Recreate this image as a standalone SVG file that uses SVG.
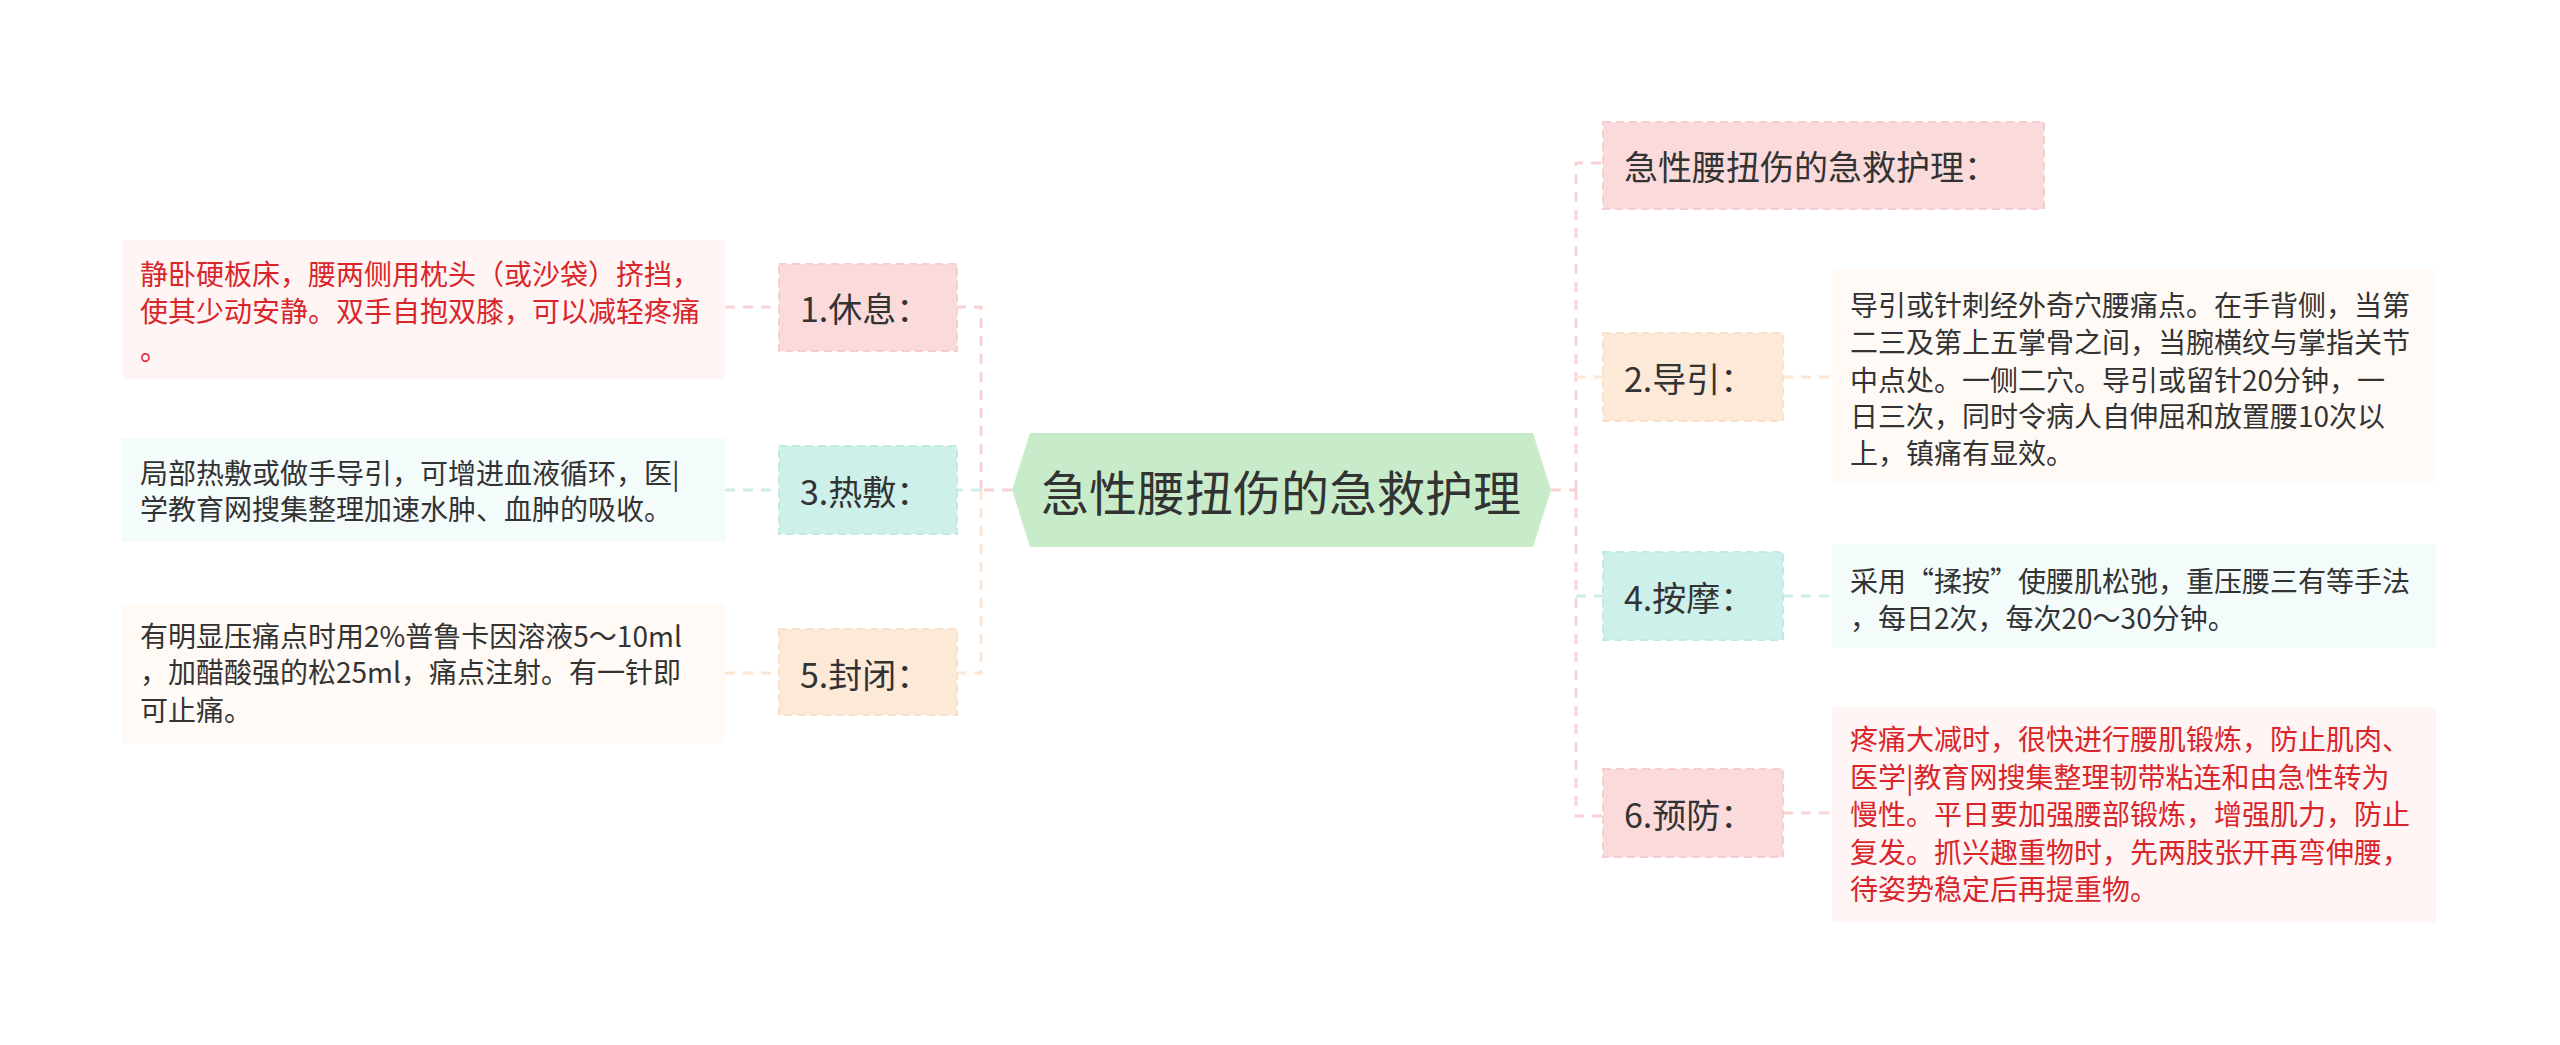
<svg xmlns="http://www.w3.org/2000/svg" width="2560" height="1045" viewBox="0 0 2560 1045">
<style>
text{font-family:"Noto Sans CJK SC","Noto Sans",sans-serif;fill:#333;dominant-baseline:central}
.leaf{font-size:28px}
.red{fill:#d9262a}
.l1{font-size:34px}
.con{fill:none;stroke-width:3;stroke-dasharray:10 8}
.nb{stroke-width:2;stroke-dasharray:8 5}
</style>
<rect width="2560" height="1045" fill="#fff"/>
<g id="connectors">
<path class="con" stroke="#f9d3d4" d="M1551 490H1576M1576 490V163H1603M1576 490V816H1603"/>
<path class="con" stroke="#fde6d2" d="M1576 377H1603M1783 377H1832"/>
<path class="con" stroke="#cdeee8" d="M1576 596H1603M1783 596H1832"/>
<path class="con" stroke="#f9d3d4" d="M1783 813H1832"/>
<path class="con" stroke="#f9d3d4" d="M1012 490H981M981 490V307H957M725 307H779"/>
<path class="con" stroke="#cdeee8" d="M981 490H957M725 490H779"/>
<path class="con" stroke="#fde6d2" d="M981 490V673H957M725 673H779"/>
</g>
<g id="center">
<polygon points="1012,490 1030,433 1533,433 1551,490 1533,547 1030,547" fill="#c8ecc9"/>
<text x="1281" y="490" font-size="48" text-anchor="middle">急性腰扭伤的急救护理</text>
</g>
<g id="n1">
<rect x="779" y="264" width="178" height="87" fill="#fadadb" stroke="#f6cdd0" class="nb"/>
<text class="l1" x="800" y="307">1.休息：</text>
</g>
<g id="leaf1">
<rect x="122" y="240" width="603" height="139" fill="#fff5f5"/>
<text class="leaf red" x="140" y="273">静卧硬板床，腰两侧用枕头（或沙袋）挤挡，</text>
<text class="leaf red" x="140" y="310">使其少动安静。双手自抱双膝，可以减轻疼痛</text>
<text class="leaf red" x="140" y="348">。</text>
</g>
<g id="n3">
<rect x="779" y="446" width="178" height="88" fill="#cdf0ea" stroke="#c0ebe3" class="nb"/>
<text class="l1" x="800" y="490">3.热敷：</text>
</g>
<g id="leaf3">
<rect x="122" y="438" width="603" height="104" fill="#f3fbfb"/>
<text class="leaf" x="140" y="472">局部热敷或做手导引，可增进血液循环，医|</text>
<text class="leaf" x="140" y="508">学教育网搜集整理加速水肿、血肿的吸收。</text>
</g>
<g id="n5">
<rect x="779" y="629" width="178" height="86" fill="#fde9d8" stroke="#fbe0c8" class="nb"/>
<text class="l1" x="800" y="673">5.封闭：</text>
</g>
<g id="leaf5">
<rect x="122" y="604" width="603" height="139" fill="#fffaf5"/>
<text class="leaf" x="140" y="635">有明显压痛点时用2%普鲁卡因溶液5～10ml</text>
<text class="leaf" x="140" y="671">，加醋酸强的松25ml，痛点注射。有一针即</text>
<text class="leaf" x="140" y="709">可止痛。</text>
</g>
<g id="title">
<rect x="1603" y="122" width="441" height="87" fill="#fadadb" stroke="#f6cdd0" class="nb"/>
<text class="l1" x="1624" y="165">急性腰扭伤的急救护理：</text>
</g>
<g id="n2">
<rect x="1603" y="333" width="180" height="88" fill="#fde9d8" stroke="#fbe0c8" class="nb"/>
<text class="l1" x="1624" y="377">2.导引：</text>
</g>
<g id="leaf2">
<rect x="1832" y="269" width="604" height="213" fill="#fffaf5"/>
<text class="leaf" x="1850" y="304">导引或针刺经外奇穴腰痛点。在手背侧，当第</text>
<text class="leaf" x="1850" y="341">二三及第上五掌骨之间，当腕横纹与掌指关节</text>
<text class="leaf" x="1850" y="379">中点处。一侧二穴。导引或留针20分钟，一</text>
<text class="leaf" x="1850" y="415">日三次，同时令病人自伸屈和放置腰10次以</text>
<text class="leaf" x="1850" y="452">上，镇痛有显效。</text>
</g>
<g id="n4">
<rect x="1603" y="552" width="180" height="88" fill="#cdf0ea" stroke="#c0ebe3" class="nb"/>
<text class="l1" x="1624" y="596">4.按摩：</text>
</g>
<g id="leaf4">
<rect x="1832" y="544" width="604" height="104" fill="#f3fbfb"/>
<text class="leaf" x="1850" y="580">采用“揉按”使腰肌松弛，重压腰三有等手法</text>
<text class="leaf" x="1850" y="617">，每日2次，每次20～30分钟。</text>
</g>
<g id="n6">
<rect x="1603" y="769" width="180" height="88" fill="#fadadb" stroke="#f6cdd0" class="nb"/>
<text class="l1" x="1624" y="813">6.预防：</text>
</g>
<g id="leaf6">
<rect x="1832" y="707" width="604" height="215" fill="#fff5f5"/>
<text class="leaf red" x="1850" y="738">疼痛大减时，很快进行腰肌锻炼，防止肌肉、</text>
<text class="leaf red" x="1850" y="776">医学|教育网搜集整理韧带粘连和由急性转为</text>
<text class="leaf red" x="1850" y="813">慢性。平日要加强腰部锻炼，增强肌力，防止</text>
<text class="leaf red" x="1850" y="851">复发。抓兴趣重物时，先两肢张开再弯伸腰，</text>
<text class="leaf red" x="1850" y="888">待姿势稳定后再提重物。</text>
</g>
</svg>
